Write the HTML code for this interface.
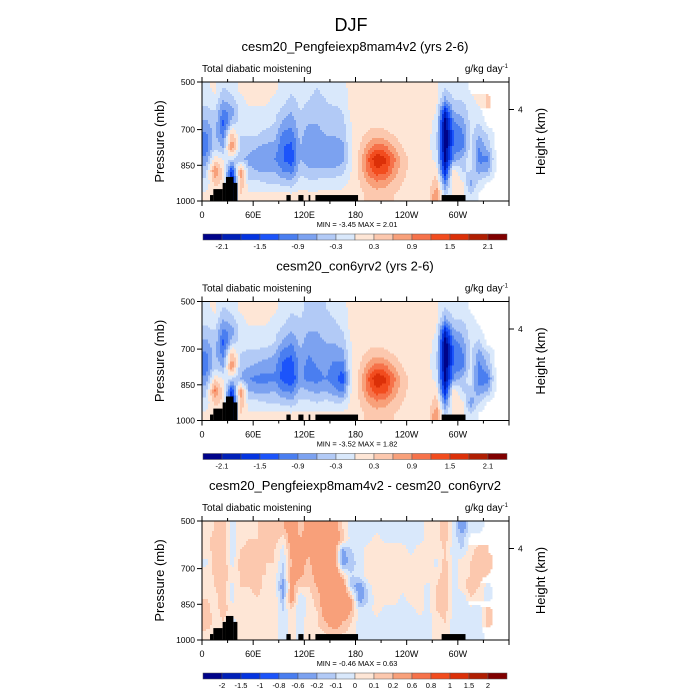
<!DOCTYPE html>
<html><head><meta charset="utf-8"><style>
body{margin:0;background:#fff;}
svg{display:block;font-family:"Liberation Sans",sans-serif;}
</style></head><body>
<svg id="fig" width="700" height="700" viewBox="0 0 700 700">
<rect width="700" height="700" fill="#fff"/>
<text x="351" y="31" font-size="18" text-anchor="middle">DJF</text>
</svg>
<script>
const lons=[5,15,25,35,45,55,65,75,85,95,105,115,125,135,145,155,165,175,185,195,205,215,225,235,245,255,265,275,285,295,305,315,325,335,345,355];
const levs=[525,575,625,675,725,775,825,875,925,975];
const panel1=[
[-0.1,0.1,-0.3,-0.2,0.1,0.1,0.1,0.1,0.1,-0.1,-0.2,-0.1,-0.2,-0.3,-0.2,-0.1,-0.1,0.1,0.1,0.1,0.1,0.1,0.1,0.1,0.1,0.1,0.1,0.1,-0.3,-0.1,-0.2,0.1,0.1,0.2,0.1,0.1],
[-0.2,-0.1,-0.6,-0.4,-0.1,0.1,0.1,0.1,-0.1,-0.2,-0.4,-0.2,-0.3,-0.4,-0.3,-0.2,-0.2,0.1,0.1,0.1,0.1,0.1,0.1,0.1,0.1,0.1,0.1,0.1,-0.7,-0.3,-0.3,-0.1,0.1,0.4,0.1,0.1],
[-0.4,-0.3,-1.0,-0.8,-0.2,-0.1,-0.1,-0.1,-0.2,-0.4,-0.6,-0.3,-0.4,-0.5,-0.4,-0.4,-0.3,0.1,0.1,0.1,0.1,0.1,0.1,0.1,0.1,0.1,0.1,0.0,-1.8,-0.6,-0.5,-0.2,-0.1,0.3,0.1,0.1],
[-0.7,-0.4,-1.3,-0.4,-0.2,-0.2,-0.2,-0.2,-0.3,-0.7,-0.8,-0.4,-0.6,-0.6,-0.5,-0.5,-0.4,0.0,0.1,0.2,0.2,0.2,0.1,0.1,0.1,0.1,0.1,-0.1,-2.4,-1.0,-0.8,-0.2,-0.3,0.1,0.1,0.1],
[-1.0,-0.5,-1.0,0.6,-0.3,-0.3,-0.3,-0.4,-0.5,-1.0,-1.1,-0.5,-0.8,-0.7,-0.6,-0.6,-0.5,0.0,0.2,0.4,0.5,0.4,0.3,0.1,0.1,0.1,0.1,-0.2,-2.4,-1.2,-1.0,-0.2,-0.6,-0.3,0.1,0.1],
[-1.1,-0.4,-0.6,0.9,-0.4,-0.5,-0.6,-0.7,-0.7,-1.2,-1.3,-0.6,-0.9,-0.8,-0.7,-0.8,-0.7,0.0,0.3,0.8,1.1,1.0,0.6,0.3,0.1,0.1,0.1,-0.2,-2.4,-1.1,-1.0,-0.2,-0.9,-0.5,0.1,0.1],
[-0.8,0.2,0.0,-0.3,-0.5,-0.7,-0.8,-0.9,-0.9,-1.2,-1.4,-0.6,-0.8,-0.9,-0.8,-0.9,-0.7,0.0,0.4,1.2,1.8,1.6,1.0,0.5,0.2,0.1,0.1,-0.1,-2.2,-0.8,-0.5,-0.1,-1.0,-1.0,0.1,0.1],
[-0.4,0.9,0.2,-1.6,0.8,-0.5,-0.6,-0.6,-0.6,-0.9,-1.0,-0.4,-0.5,-0.5,-0.5,-0.5,-0.4,0.0,0.4,1.0,1.4,1.3,0.8,0.4,0.2,0.1,0.1,0.2,-1.8,0.2,-0.3,-0.3,-0.7,-0.6,0.1,0.1],
[-0.2,0.4,0.2,-2.2,0.6,-0.2,-0.2,-0.3,-0.3,-0.4,-0.5,-0.1,-0.2,-0.2,-0.1,-0.1,-0.1,0.1,0.3,0.6,0.8,0.7,0.5,0.3,0.2,0.1,0.1,0.5,-1.0,0.3,0.1,-0.7,-0.2,0.1,0.1,0.1],
[0.1,0.1,0.1,-1.5,0.3,0.1,0.1,0.1,0.1,0.1,0.1,0.1,0.1,0.1,0.1,0.1,0.1,0.1,0.2,0.4,0.4,0.4,0.3,0.2,0.1,0.1,0.2,0.9,-0.4,0.1,0.1,-0.3,0.1,0.1,0.1,0.1]];
const panel2=[
[-0.1,0.1,-0.3,-0.2,0.1,0.1,0.1,0.1,0.1,-0.1,-0.2,-0.2,-0.4,-0.4,-0.3,-0.2,-0.1,0.1,0.1,0.1,0.1,0.1,0.1,0.1,0.1,0.1,0.1,0.1,-0.3,-0.1,-0.2,0.1,0.1,0.2,0.1,0.1],
[-0.2,-0.1,-0.6,-0.4,-0.1,0.1,0.1,0.1,-0.1,-0.2,-0.4,-0.3,-0.5,-0.5,-0.4,-0.3,-0.2,0.1,0.1,0.1,0.1,0.1,0.1,0.1,0.1,0.1,0.1,0.1,-0.7,-0.3,-0.3,-0.1,0.1,0.3,0.1,0.1],
[-0.4,-0.3,-1.0,-0.8,-0.2,-0.1,-0.1,-0.1,-0.2,-0.4,-0.6,-0.4,-0.6,-0.6,-0.5,-0.4,-0.3,0.1,0.1,0.1,0.1,0.1,0.1,0.1,0.1,0.1,0.1,0.0,-1.8,-0.7,-0.5,-0.2,-0.1,0.2,0.1,0.1],
[-0.7,-0.4,-1.3,-0.4,-0.2,-0.2,-0.2,-0.2,-0.3,-0.7,-0.9,-0.5,-0.8,-0.7,-0.6,-0.6,-0.5,0.0,0.1,0.2,0.2,0.2,0.1,0.1,0.1,0.1,0.1,-0.1,-2.4,-1.1,-0.8,-0.2,-0.4,0.1,0.1,0.1],
[-1.0,-0.5,-1.0,0.6,-0.3,-0.4,-0.4,-0.5,-0.6,-1.1,-1.2,-0.7,-0.9,-0.8,-0.7,-0.8,-0.7,0.0,0.2,0.4,0.5,0.4,0.3,0.1,0.1,0.1,0.1,-0.2,-2.4,-1.2,-1.0,-0.2,-0.8,-0.4,0.1,0.1],
[-1.1,-0.4,-0.6,0.9,-0.5,-0.6,-0.7,-0.8,-0.8,-1.3,-1.4,-0.8,-1.0,-0.9,-0.8,-1.0,-1.1,0.0,0.3,0.8,1.1,1.0,0.6,0.3,0.1,0.1,0.1,-0.2,-2.4,-1.1,-1.0,-0.2,-1.0,-0.6,0.1,0.1],
[-0.8,0.2,0.0,-0.3,-0.6,-0.9,-1.0,-1.0,-1.0,-1.3,-1.5,-0.8,-1.0,-1.0,-0.9,-1.1,-1.4,0.0,0.4,1.2,1.8,1.6,1.0,0.5,0.2,0.1,0.1,-0.1,-2.2,-0.8,-0.5,-0.1,-1.1,-1.1,0.1,0.1],
[-0.4,1.0,0.2,-1.6,0.8,-0.6,-0.7,-0.7,-0.6,-0.9,-1.0,-0.5,-0.6,-0.7,-0.6,-0.8,-1.0,0.0,0.4,1.0,1.4,1.3,0.8,0.4,0.2,0.1,0.1,0.2,-1.8,0.2,-0.3,-0.4,-0.8,-0.6,0.1,0.1],
[-0.2,0.4,0.2,-2.2,0.6,-0.2,-0.2,-0.3,-0.3,-0.4,-0.5,-0.2,-0.2,-0.3,-0.2,-0.3,-0.3,0.1,0.3,0.6,0.8,0.7,0.5,0.3,0.2,0.1,0.1,0.5,-1.0,0.3,0.1,-0.8,-0.3,0.1,0.1,0.1],
[0.1,0.1,0.1,-1.5,0.3,0.1,0.1,0.1,0.1,0.1,0.1,0.1,0.1,0.1,0.1,0.1,0.1,0.1,0.2,0.4,0.4,0.4,0.3,0.2,0.1,0.1,0.2,0.9,-0.4,0.1,0.1,-0.3,0.1,0.1,0.1,0.1]];
const panel3=[
[0.05,0.1,0.15,-0.05,0.05,0.05,0.1,0.1,0.15,0.2,0.3,0.15,0.25,0.3,0.4,0.3,0.1,-0.05,-0.05,-0.05,-0.05,-0.05,-0.05,-0.05,-0.05,-0.05,0.05,0.05,0.15,-0.05,-0.3,-0.05,-0.05,0.05,0.05,0.05],
[0.05,0.15,0.15,-0.05,0.05,0.1,0.1,0.15,0.15,0.05,0.3,0.2,0.3,0.35,0.4,0.35,0.15,-0.05,-0.05,-0.05,0.05,-0.05,-0.05,-0.05,-0.05,-0.05,0.05,0.05,0.15,-0.05,-0.15,0.05,0.05,0.1,0.05,0.05],
[0.1,0.1,0.2,-0.1,0.1,0.15,0.1,0.15,0.1,-0.05,0.25,0.2,0.25,0.3,0.35,0.3,-0.25,-0.1,-0.05,0.07,0.07,0.07,0.07,0.07,-0.05,0.07,0.07,0.07,0.1,-0.05,-0.1,0.07,0.15,0.1,0.07,0.07],
[-0.05,0.15,0.2,-0.05,0.15,0.1,0.15,0.1,0.1,-0.1,0.2,0.3,0.15,0.35,0.4,0.35,-0.3,-0.15,-0.05,0.07,0.07,0.07,0.07,0.07,0.07,0.07,0.07,-0.05,0.15,-0.05,0.07,0.1,0.15,0.15,0.07,0.07],
[0.1,0.1,0.2,0.05,0.1,0.15,0.1,0.1,0.05,-0.15,0.25,0.25,0.1,0.3,0.3,0.4,0.1,-0.1,-0.05,0.07,0.07,0.07,0.07,0.07,0.07,0.07,0.07,0.07,0.15,-0.05,0.07,0.1,0.15,0.1,0.07,0.07],
[0.05,0.1,0.15,-0.05,0.1,0.1,0.15,0.05,0.05,-0.3,0.25,0.1,0.1,0.2,0.3,0.4,0.35,-0.15,-0.3,-0.05,0.07,0.07,0.07,0.07,0.07,0.07,-0.05,0.1,0.15,-0.05,0.07,0.15,0.1,-0.05,0.07,0.07],
[0.1,0.05,0.2,-0.05,0.1,0.05,0.1,0.05,0.1,-0.2,0.3,-0.1,0.05,0.15,0.3,0.4,0.4,0.2,-0.3,-0.1,0.07,0.07,0.07,-0.05,0.07,0.07,-0.05,0.1,0.2,-0.05,-0.1,0.1,0.05,-0.05,0.07,0.07],
[0.15,0.05,0.15,0.05,0.05,0.05,0.05,0.05,0.1,-0.1,0.1,-0.1,0.05,0.1,0.3,0.5,0.4,0.2,-0.05,-0.05,0.05,-0.05,-0.05,-0.05,-0.05,0.05,-0.05,0.1,0.15,-0.05,-0.1,-0.05,-0.05,0.15,0.05,0.05],
[0.2,0.05,0.1,-0.05,0.05,0.05,0.05,0.05,0.05,-0.05,0.05,-0.05,0.05,0.1,0.2,0.3,0.2,0.1,-0.05,-0.05,-0.05,-0.1,-0.05,-0.05,-0.05,-0.05,-0.05,0.05,0.1,-0.05,-0.05,-0.1,-0.05,0.15,0.05,0.05],
[0.05,0.05,0.05,-0.05,0.05,0.05,0.05,0.05,0.05,-0.05,0.05,-0.05,0.05,0.05,0.1,0.15,0.1,0.05,-0.05,-0.05,-0.05,-0.05,-0.05,-0.05,-0.05,-0.05,-0.05,0.05,0.05,-0.05,-0.05,-0.05,-0.05,0.05,0.05,0.05]];
const terrainLon0=[9.4,13.3,24.2,28.1,36.8,99,113,125,133,281];
const terrainLon1=[13.3,24.2,28.1,36.8,41.5,104,119,127,183,309];
const terrainTop=[975,950,924,899,924,975,975,975,975,975];
const levelsA=[-2.1,-1.8,-1.5,-1.2,-0.9,-0.6,-0.3,0,0.3,0.6,0.9,1.2,1.5,1.8,2.1];
const labelsA=["-2.1","","-1.5","","-0.9","","-0.3","","0.3","","0.9","","1.5","","2.1"];
const levelsB=[-2,-1.5,-1,-0.8,-0.6,-0.2,-0.1,0,0.1,0.2,0.6,0.8,1,1.5,2];
const labelsB=["-2","-1.5","-1","-0.8","-0.6","-0.2","-0.1","0","0.1","0.2","0.6","0.8","1","1.5","2"];
const xTickLon=[0,60,120,180,240,300];
const xTickLab=["0","60E","120E","180","120W","60W"];
const yTickP=[500,700,850,1000];
const titles=["cesm20_Pengfeiexp8mam4v2 (yrs 2-6)","cesm20_con6yrv2 (yrs 2-6)","cesm20_Pengfeiexp8mam4v2 - cesm20_con6yrv2"];
const minmax=["MIN = -3.45  MAX =  2.01","MIN = -3.52  MAX =  1.82","MIN = -0.46  MAX =  0.63"];

const colors=["#00038a","#0020b8","#0434e0","#1c54fa","#4a7ef0","#7ca2f0","#b2caf6","#d9e8fb","#fee6d6","#fcc8ae","#f8a07a","#f6724a","#f24c1e","#dc3008","#b01e02","#800000"];
const svg=document.getElementById('fig');
const NS="http://www.w3.org/2000/svg";
function mk(tag,attrs,parent){const e=document.createElementNS(NS,tag);for(const k in attrs)e.setAttribute(k,attrs[k]);(parent||svg).appendChild(e);return e;}
const X0=202,X1=509,H=119;
function xs(lon){return X0+(lon/360)*(X1-X0);}
function interp(data,lon,p){
  let fi=(lon-lons[0])/10; fi=Math.max(0,Math.min(lons.length-1,fi));
  let fj=(p-levs[0])/50; fj=Math.max(0,Math.min(levs.length-1,fj));
  const i0=Math.floor(fi),j0=Math.floor(fj),i1=Math.min(i0+1,lons.length-1),j1=Math.min(j0+1,levs.length-1);
  const a=fi-i0,b=fj-j0;
  return (data[j0][i0]*(1-a)+data[j0][i1]*a)*(1-b)+(data[j1][i0]*(1-a)+data[j1][i1]*a)*b;
}
function colIdx(v,lv){let k=0;while(k<lv.length&&v>=lv[k])k++;return k;}
const tops=[82,301.5,521];
const datas=[panel1,panel2,panel3];
for(let n=0;n<3;n++){
  const T=tops[n],B=T+H;
  const ys=p=>T+(p-500)/500*H;
  const lv=n<2?levelsA:levelsB, lb=n<2?labelsA:labelsB;
  const g=mk('g',{});
  
  
  const t=mk('text',{x:355,y:T-31,'font-size':13,'text-anchor':'middle'},g);t.textContent=titles[n];
  
  
  const l=mk('text',{x:X0,y:T-10,'font-size':10},g);l.textContent="Total diabatic moistening";
  
  
  const u=mk('text',{x:X1-1,y:T-10,'font-size':10,'text-anchor':'end'},g);u.innerHTML='g/kg day<tspan dy="-4" font-size="6">-1</tspan>';
  
  
  const field=mk('g',{},g);
  
  
  const step=2;
  for(let y=T;y<B;y+=step){
    const p=500+((y+step/2-T)/H)*500;
    let runStart=X0,runC=-1;
    for(let x=X0;x<=X1;x+=step){
      let c=-2;
      if(x<X1){const lon=(x+step/2-X0)/(X1-X0)*360;c=colIdx(interp(datas[n],lon,p),lv);}
      if(c!==runC){
        if(runC>=0){const r=mk('rect',{x:runStart,y:y,width:x-runStart+0.5,height:Math.min(step,B-y)+0.3,fill:colors[runC]},field);
          
          }
        runStart=x;runC=c;
      }
    }
  }
  for(let k=0;k<terrainTop.length;k++){
    const r=mk('rect',{x:xs(terrainLon0[k]),y:ys(terrainTop[k]),width:xs(terrainLon1[k])-xs(terrainLon0[k]),height:B-ys(terrainTop[k]),fill:'#000'},g);
    
    
  }
  const fr=mk('rect',{x:X0,y:T,width:X1-X0,height:H,fill:'none',stroke:'#000','stroke-width':1},g);
  
  
  for(let lon=0;lon<=360;lon+=30){
    const x=xs(lon),len=lon%60===0?5:3;
    mk('line',{x1:x,x2:x,y1:B,y2:B+len,stroke:'#000','stroke-width':1},g);
    mk('line',{x1:x,x2:x,y1:T,y2:T-len,stroke:'#000','stroke-width':1},g);
  }
  for(let k=0;k<xTickLon.length;k++){
    const tx=mk('text',{x:xs(xTickLon[k]),y:B+17,'font-size':9,'text-anchor':'middle'},g);tx.textContent=xTickLab[k];
    
    
  }
  for(let k=0;k<yTickP.length;k++){
    const y=ys(yTickP[k]);
    mk('line',{x1:X0-5,x2:X0,y1:y,y2:y,stroke:'#000','stroke-width':1},g);
    const ty=mk('text',{x:X0-7,y:y+3,'font-size':8.5,'text-anchor':'end'},g);ty.textContent=yTickP[k];
    
    
  }
  const hy=T+27.5;
  mk('line',{x1:X1,x2:X1+5,y1:hy,y2:hy,stroke:'#000','stroke-width':1},g);
  const h4=mk('text',{x:X1+9,y:hy+3,'font-size':8.5},g);h4.textContent="4";
  
  
  const yl=mk('text',{x:0,y:0,'font-size':13,'text-anchor':'middle',transform:`translate(164,${T+H/2}) rotate(-90)`},g);yl.textContent="Pressure (mb)";
  
  
  const yr=mk('text',{x:0,y:0,'font-size':13,'text-anchor':'middle',transform:`translate(545,${T+H/2}) rotate(-90)`},g);yr.textContent="Height (km)";
  
  
  const mm=mk('text',{x:357,y:B+26,'font-size':7.5,'text-anchor':'middle'},g);mm.textContent=minmax[n];
  
  
  const cb=mk('g',{},g);
  
  
  const cy=B+33,cw=(507-203)/16;
  for(let k=0;k<16;k++){
    const r=mk('rect',{x:203+k*cw,y:cy,width:cw,height:6,fill:colors[k],stroke:'#555','stroke-width':0.5},cb);
    
    
  }
  for(let k=0;k<lb.length;k++){
    if(!lb[k])continue;
    const tl=mk('text',{x:203+(k+1)*cw,y:cy+15,'font-size':7.5,'text-anchor':'middle'},cb);tl.textContent=lb[k];
    
    
  }
}
</script>
</body></html>
